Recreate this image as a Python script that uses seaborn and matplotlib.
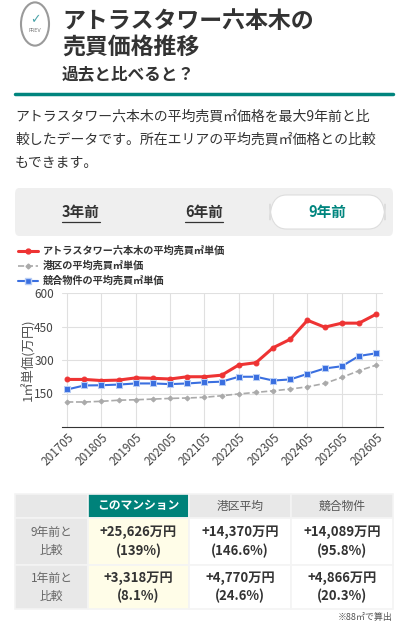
import matplotlib
matplotlib.use("Agg")
import matplotlib.pyplot as plt
import seaborn as sns
import pandas as pd
from matplotlib.patches import Rectangle, FancyBboxPatch, Circle
from matplotlib.lines import Line2D

sns.set_style("white")
plt.rcParams['font.family'] = ['Noto Sans CJK JP', 'DejaVu Sans']

periods = ["201705","201711","201805","201811","201905","201911","202005","202011","202105","202111",
           "202205","202211","202305","202311","202405","202411","202505","202511","202605"]
tower = [213,213,208,210,220,218,215,225,225,232,278,288,355,393,478,447,465,465,505]
minato = [112,112,115,120,122,125,128,130,133,140,148,155,162,170,180,195,222,252,277]
rival = [168,186,187,190,195,195,192,195,200,203,225,225,208,213,238,262,272,318,330]
series_names = ["アトラスタワー六本木の平均売買㎡単価", "港区の平均売買㎡単価", "競合物件の平均売買㎡単価"]
yticks = [150, 300, 450, 600]
xtick_labels = periods[::2]

col_heads = ["このマンション", "港区平均", "競合物件"]
row_heads = ["9年前と\n比較", "1年前と\n比較"]
cells = [["+25,626万円\n(139%)", "+14,370万円\n(146.6%)", "+14,089万円\n(95.8%)"],
         ["+3,318万円\n(8.1%)", "+4,770万円\n(24.6%)", "+4,866万円\n(20.3%)"]]

W, H = 408, 630
fig = plt.figure(figsize=(W/100, H/100), dpi=100)
def fy(y): return 1 - y/H
def fx(x): return x/W
def ftext(x, y, s, **kw):
    fig.text(fx(x), fy(y), s, **kw)

# Header
fig.patches.append(Circle((fx(35), fy(24)), 14/W, transform=fig.transFigure, fill=False,
                          ec="#9a9a9a", lw=1.5))
ftext(35, 20, "✓", ha="center", va="center", fontsize=9, color="#4aa3a8", family=['DejaVu Sans'])
ftext(35, 31, "PREV", ha="center", va="center", fontsize=3.5, color="#777", family=['DejaVu Sans'])
ftext(62, 22, "アトラスタワー六本木の", fontsize=16.5, fontweight="bold", color="#333", va="center")
ftext(62, 47, "売買価格推移", fontsize=16.5, fontweight="bold", color="#333", va="center")
ftext(62, 74, "過去と比べると？", fontsize=12, fontweight="bold", color="#333", va="center")
fig.add_artist(Line2D([fx(15), fx(393)], [fy(94), fy(94)], color="#00857e", lw=2.5))
for i, line in enumerate(["アトラスタワー六本木の平均売買㎡価格を最大9年前と比",
                          "較したデータです。所在エリアの平均売買㎡価格との比較",
                          "もできます。"]):
    ftext(15, 117 + 23*i, line, fontsize=10, color="#333", va="center")

# Tabs
fig.patches.append(FancyBboxPatch((fx(15), fy(236)), fx(378), 48/H, boxstyle="round,pad=0,rounding_size=0.01",
                                  transform=fig.transFigure, fc="#efefef", ec="none"))
fig.patches.append(FancyBboxPatch((fx(270), fy(229)), fx(115), 34/H, boxstyle="round,pad=0,rounding_size=0.04",
                                  transform=fig.transFigure, fc="white", ec="#dddddd", lw=0.8))
for x, t, c in [(81, "3年前", "#333"), (204, "6年前", "#333"), (327, "9年前", "#00857e")]:
    ftext(x, 212, t, ha="center", va="center", fontsize=10.5, fontweight="bold", color=c)
for x0, x1 in [(62, 100), (185, 223)]:
    fig.add_artist(Line2D([fx(x0), fx(x1)], [fy(222), fy(222)], color="#333", lw=0.9))

# Chart
df = pd.DataFrame({
    "period": periods * 3,
    "idx": list(range(len(periods))) * 3,
    "value": tower + minato + rival,
    "series": [series_names[0]]*len(periods) + [series_names[1]]*len(periods) + [series_names[2]]*len(periods),
})
ax = fig.add_axes([fx(62), fy(427), fx(321), 134/H])
colors = {series_names[0]: "#ee3333", series_names[1]: "#aaaaaa", series_names[2]: "#3a6fe0"}
styles = {series_names[0]: dict(marker="o", ms=3.5, lw=2.2, mec="#ee3333"),
          series_names[1]: dict(marker="D", ms=2.5, lw=1.2, mec="#aaaaaa", ls="--"),
          series_names[2]: dict(marker="s", ms=5, lw=1.5, mec="#b8cdf5")}
for name in series_names:
    sub = df[df.series == name]
    st = styles[name]
    sns.lineplot(data=sub, x="idx", y="value", ax=ax, color=colors[name], marker=st["marker"],
                 markersize=st["ms"], linewidth=st["lw"], markeredgecolor=st["mec"],
                 linestyle=st.get("ls", "-"), dashes=False)
ax.set_ylim(0, 600)
ax.set_xlim(-0.3, len(periods) - 0.6)
ax.set_yticks(yticks)
ax.set_xticks(range(0, len(periods), 2))
ax.set_xticklabels(xtick_labels, rotation=45, ha="right", rotation_mode="anchor", fontsize=8.5, color="#444")
ax.tick_params(axis="y", labelsize=8.5, labelcolor="#444", length=0, pad=20)
ax.tick_params(axis="x", length=0, pad=3)
ax.grid(True, color="#e0e0e0", lw=0.8)
for s in ["top", "right", "left"]:
    ax.spines[s].set_visible(False)
ax.spines["bottom"].set_color("#333")
ax.set_xlabel("")
ax.set_ylabel("")
for t in ax.get_yticklabels():
    t.set_ha("left")
ftext(28, 360, "1㎡単価(万円)", rotation=90, ha="center", va="center", fontsize=9.5, color="#555")

# Legend (manual)
for i, name in enumerate(series_names):
    y = 251 + 15*i
    st = styles[name]
    fig.add_artist(Line2D([fx(18), fx(38)], [fy(y), fy(y)], color=colors[name], lw=st["lw"],
                          ls=st.get("ls", "-")))
    fig.add_artist(Line2D([fx(28)], [fy(y)], color=colors[name], marker=st["marker"],
                          ms=st["ms"], mec=st["mec"]))
    ftext(43, y, name, fontsize=7.3, color="#333", va="center", fontweight="bold")

# Table
xs = [15, 88, 189, 291, 393]
ys = [494, 518, 565, 609]
def rect(x0, y0, x1, y1, fc):
    fig.patches.append(Rectangle((fx(x0), fy(y1)), fx(x1 - x0), (y1 - y0)/H, transform=fig.transFigure,
                                 fc=fc, ec="#f4f4f4", lw=1.2))
rect(xs[0], ys[0], xs[1], ys[1], "#e8e8e8")
for j, h in enumerate(col_heads):
    fc = "#00827a" if j == 0 else "#e8e8e8"
    rect(xs[j+1], ys[0], xs[j+2], ys[1], fc)
    ftext((xs[j+1]+xs[j+2])/2, (ys[0]+ys[1])/2, h, ha="center", va="center", fontsize=8.5,
          color="white" if j == 0 else "#555", fontweight="bold" if j == 0 else "normal")
for i, rh in enumerate(row_heads):
    rect(xs[0], ys[i+1], xs[1], ys[i+2], "#e8e8e8")
    ftext((xs[0]+xs[1])/2, (ys[i+1]+ys[i+2])/2, rh, ha="center", va="center", fontsize=8.5,
          color="#666", linespacing=1.5)
    for j in range(3):
        rect(xs[j+1], ys[i+1], xs[j+2], ys[i+2], "#fffde8" if j == 0 else "white")
        ftext((xs[j+1]+xs[j+2])/2, (ys[i+1]+ys[i+2])/2, cells[i][j], ha="center", va="center",
              fontsize=9.5, fontweight="bold", color="#333", linespacing=1.35)
ftext(393, 617, "※88㎡で算出", ha="right", va="center", fontsize=6.5, color="#555")

fig.savefig("out.png", dpi=100, facecolor="white")
